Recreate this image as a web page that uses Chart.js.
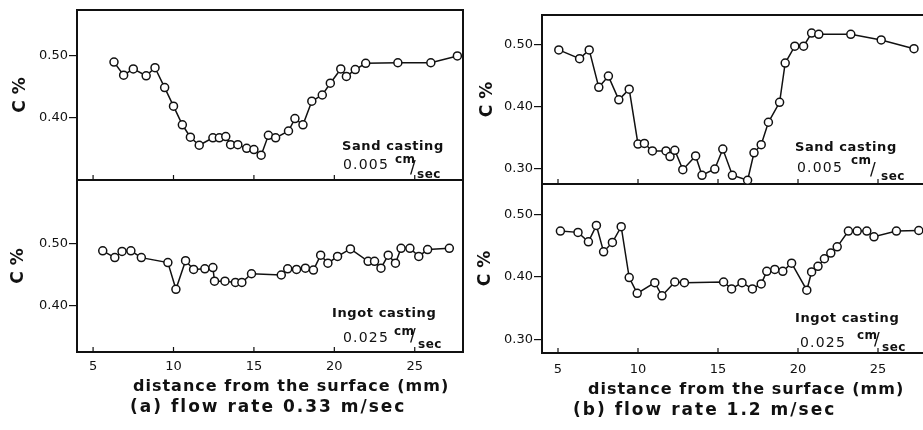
<!DOCTYPE html>
<html>
<head>
<meta charset="utf-8">
<script src="https://cdn.jsdelivr.net/npm/chart.js@4.4.1/dist/chart.umd.min.js"></script>
<style>
  html, body { margin: 0; padding: 0; background: #fff; }
  body { width: 923px; height: 430px; position: relative; overflow: hidden; font-family: "DejaVu Sans", sans-serif; color: #111; }
  .box { position: absolute; }
  .t { position: absolute; white-space: nowrap; line-height: 1; font-weight: bold; }
  .lbl { font-size: 13px; letter-spacing: 0.6px; }
  .num { font-size: 14px; letter-spacing: 1.2px; font-weight: normal; }
  .unit { font-size: 12px; letter-spacing: 0.5px; }
  .sl { font-size: 17px; font-weight: normal; }
  .axt { font-size: 16px; letter-spacing: 1px; }
  .cap { font-size: 17px; letter-spacing: 2px; }
</style>
</head>
<body>
<div class="box" style="left:0;top:0;width:470px;height:181px"><canvas id="aSand"></canvas></div>
<div class="box" style="left:0;top:180px;width:470px;height:250px"><canvas id="aIngot"></canvas></div>
<div class="box" style="left:466px;top:0;width:470px;height:185px"><canvas id="bSand"></canvas></div>
<div class="box" style="left:466px;top:184px;width:470px;height:246px"><canvas id="bIngot"></canvas></div>

<!-- notes, panel (a) -->
<span class="t lbl" style="left:342px;top:139px">Sand casting</span>
<span class="t num" style="left:343px;top:157px">0.005</span>
<span class="t unit" style="left:395px;top:153px">cm</span>
<span class="t sl" style="left:410px;top:159px">/</span>
<span class="t unit" style="left:417px;top:168px">sec</span>

<span class="t lbl" style="left:332px;top:306px">Ingot casting</span>
<span class="t num" style="left:343px;top:330px">0.025</span>
<span class="t unit" style="left:394px;top:325px">cm</span>
<span class="t sl" style="left:410px;top:327px">/</span>
<span class="t unit" style="left:418px;top:338px">sec</span>

<!-- notes, panel (b) -->
<span class="t lbl" style="left:795px;top:140px">Sand casting</span>
<span class="t num" style="left:797px;top:160px">0.005</span>
<span class="t unit" style="left:851px;top:154px">cm</span>
<span class="t sl" style="left:870px;top:161px">/</span>
<span class="t unit" style="left:881px;top:170px">sec</span>

<span class="t lbl" style="left:795px;top:311px">Ingot casting</span>
<span class="t num" style="left:800px;top:335px">0.025</span>
<span class="t unit" style="left:857px;top:329px">cm</span>
<span class="t sl" style="left:874px;top:331px">/</span>
<span class="t unit" style="left:882px;top:341px">sec</span>

<span class="t axt" style="left:133px;top:378px">distance from the surface (mm)</span>
<span class="t axt" style="left:588px;top:381px">distance from the surface (mm)</span>
<span class="t cap" style="left:130px;top:398px">(a) flow rate 0.33 m/sec</span>
<span class="t cap" style="left:573px;top:401px">(b) flow rate 1.2 m/sec</span>

<script>
// --------------------
// Data
// --------------------
const xTicks = [5, 10, 15, 20, 25];

// (a) flow rate 0.33 m/sec, sand casting 0.005 cm/sec
const aSandX = [6.3, 6.9, 7.5, 8.3, 8.85, 9.45, 10.0, 10.55, 11.05, 11.6, 12.45, 12.85, 13.25, 13.55, 14.0, 14.55, 15.0, 15.45, 15.9, 16.35, 17.15, 17.55, 18.05, 18.6, 19.25, 19.75, 20.4, 20.75, 21.3, 21.95, 23.95, 26.0, 27.65];
const aSandC = [0.490, 0.469, 0.479, 0.468, 0.481, 0.449, 0.419, 0.389, 0.369, 0.356, 0.368, 0.368, 0.370, 0.357, 0.357, 0.351, 0.349, 0.340, 0.372, 0.368, 0.379, 0.399, 0.389, 0.427, 0.437, 0.456, 0.479, 0.467, 0.478, 0.488, 0.489, 0.489, 0.500];
const aSandTicks = [0.40, 0.50];

// (a) ingot casting 0.025 cm/sec
const aIngotX = [5.6, 6.35, 6.8, 7.35, 8.0, 9.65, 10.15, 10.75, 11.25, 11.95, 12.45, 12.55, 13.2, 13.85, 14.25, 14.85, 16.7, 17.1, 17.65, 18.2, 18.7, 19.15, 19.6, 20.2, 21.0, 22.1, 22.5, 22.9, 23.35, 23.8, 24.15, 24.7, 25.25, 25.8, 27.15];
const aIngotC = [0.489, 0.478, 0.488, 0.489, 0.478, 0.470, 0.427, 0.473, 0.459, 0.460, 0.462, 0.440, 0.440, 0.438, 0.438, 0.452, 0.450, 0.460, 0.459, 0.461, 0.458, 0.482, 0.469, 0.480, 0.492, 0.472, 0.472, 0.461, 0.482, 0.469, 0.493, 0.493, 0.480, 0.491, 0.493];
const aIngotTicks = [0.40, 0.50];

// (b) flow rate 1.2 m/sec, sand casting
const bSandX = [5.05, 6.35, 6.95, 7.55, 8.15, 8.8, 9.45, 10.0, 10.4, 10.9, 11.75, 12.0, 12.3, 12.8, 13.6, 14.0, 14.8, 15.3, 15.9, 16.85, 17.25, 17.7, 18.15, 18.85, 19.2, 19.8, 20.35, 20.85, 21.3, 23.3, 25.2, 27.25];
const bSandC = [0.491, 0.477, 0.491, 0.431, 0.449, 0.411, 0.428, 0.340, 0.341, 0.329, 0.329, 0.320, 0.330, 0.299, 0.321, 0.290, 0.300, 0.332, 0.290, 0.282, 0.326, 0.339, 0.375, 0.407, 0.470, 0.497, 0.497, 0.518, 0.516, 0.516, 0.507, 0.493];
const bSandTicks = [0.30, 0.40, 0.50];

// (b) ingot casting
const bIngotX = [5.15, 6.25, 6.9, 7.4, 7.85, 8.4, 8.95, 9.45, 9.95, 11.05, 11.5, 12.3, 12.9, 15.35, 15.85, 16.5, 17.15, 17.7, 18.05, 18.55, 19.05, 19.6, 20.55, 20.85, 21.25, 21.65, 22.05, 22.45, 23.15, 23.7, 24.3, 24.75, 26.15, 27.55];
const bIngotC = [0.473, 0.471, 0.456, 0.482, 0.440, 0.455, 0.480, 0.399, 0.374, 0.391, 0.370, 0.392, 0.391, 0.392, 0.381, 0.391, 0.381, 0.389, 0.409, 0.412, 0.409, 0.422, 0.379, 0.408, 0.417, 0.429, 0.438, 0.448, 0.473, 0.473, 0.473, 0.464, 0.473, 0.474];
const bIngotTicks = [0.30, 0.40, 0.50];

const INK = "#111";
const FONT = "DejaVu Sans";

// --------------------
// Frame + inward x ticks
// --------------------
const framePlugin = {
  id: "frame",
  beforeDatasetsDraw(chart) {
    const { ctx, chartArea: a, scales } = chart;
    ctx.save();
    ctx.strokeStyle = INK;
    ctx.lineWidth = 2;
    ctx.strokeRect(a.left, a.top, a.right - a.left, a.bottom - a.top);
    ctx.lineWidth = 1.2;
    xTicks.forEach(v => {
      const px = scales.x.getPixelForValue(v);
      ctx.beginPath();
      ctx.moveTo(px, a.bottom);
      ctx.lineTo(px, a.bottom - 5);
      ctx.stroke();
    });
    ctx.restore();
  }
};

// no extra room for half tick labels at the axis ends
function noPad(s) {
  s.paddingTop = 0;
  s.paddingBottom = 0;
  s.paddingLeft = 0;
  s.paddingRight = 0;
}

function makeChart(id, xs, cs, yMin, yMax, yTicks, o) {
  const pts = xs.map((x, i) => ({ x: x, y: cs[i] }));
  return new Chart(document.getElementById(id), {
    type: "line",
    data: {
      datasets: [{
        data: pts,
        borderColor: INK,
        borderWidth: 1.5,
        pointRadius: 4,
        pointBorderWidth: 1.5,
        pointBackgroundColor: "#fff",
        pointBorderColor: INK,
        tension: 0,
        clip: false
      }]
    },
    options: {
      responsive: true,
      maintainAspectRatio: false,
      animation: false,
      events: [],
      layout: { padding: o.pad, autoPadding: false },
      plugins: { legend: { display: false }, tooltip: { enabled: false } },
      scales: {
        x: {
          type: "linear",
          min: 4,
          max: 28,
          display: o.showX,
          afterBuildTicks: s => { s.ticks = xTicks.map(v => ({ value: v })); },
          afterFit: s => { s.height = o.xh; noPad(s); },
          grid: { display: false, drawTicks: false },
          border: { display: false },
          ticks: { padding: o.xpad, color: INK, maxRotation: 0, autoSkip: false, font: { family: FONT, size: 13 } }
        },
        y: {
          min: yMin,
          max: yMax,
          afterBuildTicks: s => { s.ticks = yTicks.map(v => ({ value: v })); },
          afterFit: s => { s.width = o.yw; noPad(s); },
          grid: { drawOnChartArea: false, drawTicks: true, tickLength: 8, color: INK, lineWidth: 1.2 },
          border: { display: false },
          ticks: { padding: 1, color: INK, font: { family: FONT, size: 13 }, callback: v => v.toFixed(2) },
          title: {
            display: true, text: "C %", color: INK,
            font: { family: FONT, size: 17, weight: "bold" },
            padding: { top: o.tp, bottom: 0 }
          }
        }
      }
    },
    plugins: [framePlugin]
  });
}

makeChart("aSand", aSandX, aSandC, 0.30, 0.574, aSandTicks,
  { pad: { top: 10, right: 7, bottom: 1, left: 0 }, showX: false, xh: 0, xpad: 0, yw: 77, tp: 10 });
makeChart("aIngot", aIngotX, aIngotC, 0.326, 0.603, aIngotTicks,
  { pad: { top: 0, right: 7, bottom: 0, left: 0 }, showX: true, xh: 78, xpad: 7, yw: 77, tp: 8 });
makeChart("bSand", bSandX, bSandC, 0.276, 0.547, bSandTicks,
  { pad: { top: 15, right: 10, bottom: 1, left: 0 }, showX: false, xh: 0, xpad: 0, yw: 76, tp: 11 });
makeChart("bIngot", bIngotX, bIngotC, 0.279, 0.548, bIngotTicks,
  { pad: { top: 0, right: 10, bottom: 0, left: 0 }, showX: true, xh: 77, xpad: 9, yw: 76, tp: 9 });
</script>
</body>
</html>
